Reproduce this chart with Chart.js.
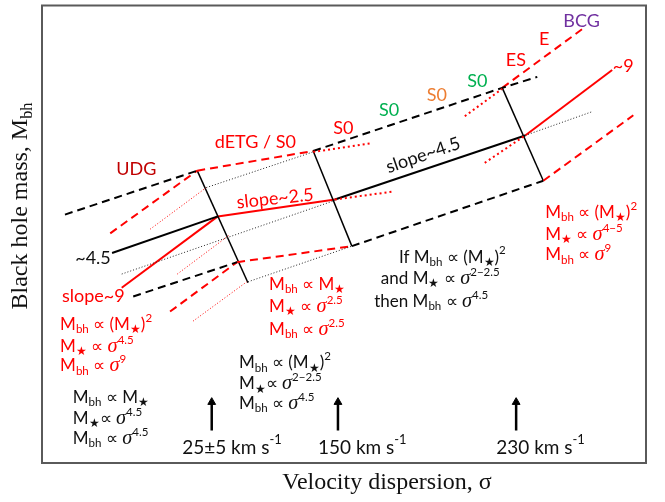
<!DOCTYPE html>
<html>
<head>
<meta charset="utf-8">
<script src="https://cdn.jsdelivr.net/npm/chart.js@4.4.0/dist/chart.umd.min.js"></script>
<style>
html, body { margin: 0; padding: 0; background: #fff; }
#wrap { width: 665px; height: 502px; }
</style>
</head>
<body>
<div id="wrap"><canvas id="chart" width="665" height="502"></canvas></div>
<script>
// schematic axes: log sigma (x) and log Mbh (y), arbitrary units 0-100

// line segments, one array per line style
const blackDashed = [
    [[3.8, 54.3], [25.7, 63.9]],
    [[44.9, 68.2], [76.2, 82.0], [82.0, 84.4]],
    [[15.1, 36.4], [32.3, 43.9]],
    [[51.3, 47.4], [83.0, 61.7]]
];
const redDashed = [
    [[25.7, 63.9], [44.9, 68.2]],
    [[11.3, 50.2], [25.7, 63.9]],
    [[76.2, 82.0], [89.4, 94.8]],
    [[21.2, 33.1], [32.3, 43.9]],
    [[32.3, 43.9], [51.3, 47.4]],
    [[83.0, 61.7], [97.9, 76.0]]
];
const blackSolid = [
    [[11.6, 45.9], [29.1, 53.9]],
    [[48.5, 57.6], [80.0, 71.6]]
];
const redSolid = [
    [[13.2, 38.3], [29.1, 53.9]],
    [[29.1, 53.9], [48.5, 57.6]],
    [[80.0, 71.6], [94.4, 85.9]]
];
const crossLines = [
    [[25.7, 63.9], [34.1, 39.4]],
    [[44.9, 68.2], [51.3, 47.4]],
    [[76.2, 82.0], [83.0, 61.7]]
];
const blackDotted = [
    [[27.2, 60.2], [44.9, 68.0]],
    [[13.2, 41.3], [48.5, 57.4]],
    [[34.1, 39.6], [51.3, 47.4]],
    [[80.0, 71.6], [91.1, 76.8]]
];
const redDottedFine = [
    [[17.9, 51.1], [27.2, 60.2]],
    [[22.4, 41.3], [31.0, 49.8]],
    [[25.0, 31.0], [33.9, 39.6]]
];
const redDotted = [
    [[44.9, 68.0], [54.6, 69.9]],
    [[48.5, 57.6], [58.0, 59.3]],
    [[70.0, 75.8], [76.2, 81.8]],
    [[73.3, 65.6], [80.0, 71.6]]
];

// velocity dispersion markers
const sigmaMarks = ['25±5 km s^{-1}', '150 km s^{-1}', '230 km s^{-1}'];
const sigmaMarkX = [28.1, 49.0, 78.5];
const arrowY = [7.1, 13.3];

const galaxyTypes = ['UDG', 'dETG / S0', 'S0', 'S0', 'S0', 'S0', 'ES', 'E', 'BCG'];
const slopeLabels = ['slope~2.5', 'slope~4.5', '~4.5', 'slope~9', '~9'];

const relLowRed = ['M_{bh} ∝ (M_{★})^{2}', 'M_{★} ∝ σ^{4.5}', 'M_{bh} ∝ σ^{9}'];
const relLowBlack = ['M_{bh} ∝ M_{★}', 'M_{★}∝ σ^{4.5}', 'M_{bh} ∝ σ^{4.5}'];
const relMidRed = ['M_{bh} ∝ M_{★}', 'M_{★} ∝ σ^{2.5}', 'M_{bh} ∝ σ^{2.5}'];
const relMidBlack = ['M_{bh} ∝ (M_{★})^{2}', 'M_{★}∝ σ^{2−2.5}', 'M_{bh} ∝ σ^{4.5}'];
const relIf = ['If M_{bh} ∝ (M_{★})^{2}', 'and M_{★} ∝ σ^{2−2.5}', 'then M_{bh} ∝ σ^{4.5}'];
const relHighRed = ['M_{bh} ∝ (M_{★})^{2}', 'M_{★} ∝ σ^{4−5}', 'M_{bh} ∝ σ^{9}'];

const RED = '#ff0000';
const INK = '#111111';
const FONT = 'Lato, "Open Sans", sans-serif';
const SERIF = '"Liberation Serif", "DejaVu Serif", serif';

function segmentSets(list, style) {
    return list.map(seg => Object.assign({
        data: seg.map(p => ({ x: p[0], y: p[1] })),
        showLine: true,
        pointRadius: 0,
        fill: false
    }, style));
}

const datasets = [].concat(
    segmentSets(blackDotted, { borderColor: '#222', borderWidth: 1, borderDash: [1, 2] }),
    segmentSets(redDottedFine, { borderColor: RED, borderWidth: 1, borderDash: [1, 2] }),
    segmentSets(redDotted, { borderColor: RED, borderWidth: 2, borderDash: [2, 3] }),
    segmentSets(blackDashed, { borderColor: '#000', borderWidth: 2, borderDash: [8, 5] }),
    segmentSets(redDashed, { borderColor: RED, borderWidth: 2, borderDash: [8, 5] }),
    segmentSets(crossLines, { borderColor: '#000', borderWidth: 1.5 }),
    segmentSets(blackSolid, { borderColor: '#000', borderWidth: 2 }),
    segmentSets(redSolid, { borderColor: RED, borderWidth: 2 }),
    sigmaMarkX.map(x => ({
        data: [{ x: x, y: arrowY[0] }, { x: x, y: arrowY[1] }],
        showLine: true,
        borderColor: '#000',
        borderWidth: 2.5,
        pointRadius: [0, 4.5],
        pointStyle: 'triangle',
        pointBackgroundColor: '#000',
        pointBorderColor: '#000',
        pointBorderWidth: 1
    }))
);

// small rich text: _{..} subscript, ^{..} superscript, sigma in italic
function parseRich(s) {
    const out = [];
    let buf = '';
    let i = 0;
    while (i < s.length) {
        const c = s[i];
        if ((c === '_' || c === '^') && s[i + 1] === '{') {
            if (buf) { out.push({ t: buf, m: 'n' }); buf = ''; }
            const end = s.indexOf('}', i);
            out.push({ t: s.slice(i + 2, end), m: c === '_' ? 'sub' : 'sup' });
            i = end + 1;
        } else {
            buf += c;
            i++;
        }
    }
    if (buf) out.push({ t: buf, m: 'n' });
    return out;
}

function drawRich(ctx, s, x, y, size, color, align, family, plainSigma) {
    const runs = [];
    parseRich(s).forEach(seg => {
        const sz = seg.m === 'n' ? size : size * 0.68;
        const dy = seg.m === 'sub' ? size * 0.3 : seg.m === 'sup' ? -size * 0.38 : 0;
        seg.t.split(/(σ)/).forEach(p => {
            if (!p) return;
            const font = (p === 'σ' && !plainSigma)
                ? `italic ${sz * 1.2}px ${SERIF}`
                : `${sz}px ${family || FONT}`;
            runs.push({ t: p, font: font, dy: dy });
        });
    });
    let w = 0;
    runs.forEach(r => { ctx.font = r.font; r.w = ctx.measureText(r.t).width; w += r.w; });
    let cx = align === 'center' ? x - w / 2 : align === 'right' ? x - w : x;
    ctx.fillStyle = color;
    ctx.textAlign = 'left';
    ctx.textBaseline = 'middle';
    runs.forEach(r => {
        ctx.font = r.font;
        ctx.fillText(r.t, cx, y + r.dy);
        cx += r.w;
    });
}

const notes = {
    id: 'notes',
    afterDatasetsDraw(chart) {
        const { ctx, chartArea: a, scales: { x, y } } = chart;
        const px = v => x.getPixelForValue(v);
        const py = v => y.getPixelForValue(v);
        ctx.save();

        // frame
        ctx.strokeStyle = '#5a5a5a';
        ctx.lineWidth = 2;
        ctx.strokeRect(a.left, a.top, a.right - a.left, a.bottom - a.top);

        // galaxy types along the upper envelope
        const typePos = [[12.3, 64.3], [28.6, 70.1], [48.2, 73.2], [55.8, 77.1], [63.7, 80.5],
                         [70.4, 83.5], [76.8, 88.1], [82.3, 92.6], [86.3, 96.5]];
        const typeColor = ['#c00000', RED, RED, '#00b050', '#ed7d31', '#00b050', RED, RED, '#7030a0'];
        galaxyTypes.forEach((t, i) => {
            drawRich(ctx, t, px(typePos[i][0]), py(typePos[i][1]), 18, typeColor[i], 'left');
        });

        // slope labels
        const rot = (t, cx, cy, deg, color) => {
            ctx.save();
            ctx.translate(px(cx), py(cy));
            ctx.rotate(deg * Math.PI / 180);
            drawRich(ctx, t, 0, 0, 18, color, 'center');
            ctx.restore();
        };
        rot(slopeLabels[0], 38.6, 57.8, -6, RED);
        rot(slopeLabels[1], 63.1, 67.3, -19, INK);
        drawRich(ctx, slopeLabels[2], px(5.5), py(44.8), 18, INK, 'left');
        drawRich(ctx, slopeLabels[3], px(3.3), py(36.4), 18, RED, 'left');
        drawRich(ctx, slopeLabels[4], px(94.5), py(86.8), 18, RED, 'left');

        // scaling relations
        const block = (lines, xs, ys, color) => {
            lines.forEach((t, i) => {
                const xv = Array.isArray(xs) ? xs[i] : xs;
                drawRich(ctx, t, px(xv), py(ys[i]), 17, color, 'left');
            });
        };
        block(relLowRed, 3.0, [30.3, 25.5, 21.2], RED);
        block(relLowBlack, 5.1, [14.3, 9.7, 5.4], INK);
        block(relMidRed, 37.6, [39.0, 34.2, 29.2], RED);
        block(relMidBlack, 32.6, [21.9, 17.3, 13.0], INK);
        block(relIf, [59.1, 56.1, 55.0], [45.0, 40.3, 35.3], INK);
        block(relHighRed, 83.3, [54.8, 50.0, 45.5], RED);

        // sigma marks under the arrows
        const markX = [23.2, 45.7, 75.2];
        sigmaMarks.forEach((t, i) => {
            drawRich(ctx, t, px(markX[i]), py(3.4), 19, INK, 'left');
        });

        // axis titles
        drawRich(ctx, 'Velocity dispersion, σ', 387, 483, 24, INK, 'center', SERIF, true);
        ctx.save();
        ctx.translate(21, 206);
        ctx.rotate(-Math.PI / 2);
        drawRich(ctx, 'Black hole mass, M_{bh}', 0, 0, 24, INK, 'center', SERIF);
        ctx.restore();

        ctx.restore();
    }
};

new Chart(document.getElementById('chart').getContext('2d'), {
    type: 'scatter',
    data: { datasets: datasets },
    options: {
        responsive: false,
        animation: false,
        layout: { padding: { left: 42, top: 1, right: 19, bottom: 39 } },
        scales: {
            x: { type: 'linear', min: 0, max: 100, display: false },
            y: { type: 'linear', min: 0, max: 100, display: false }
        },
        plugins: {
            legend: { display: false },
            tooltip: { enabled: false }
        }
    },
    plugins: [notes]
});
</script>
</body>
</html>
